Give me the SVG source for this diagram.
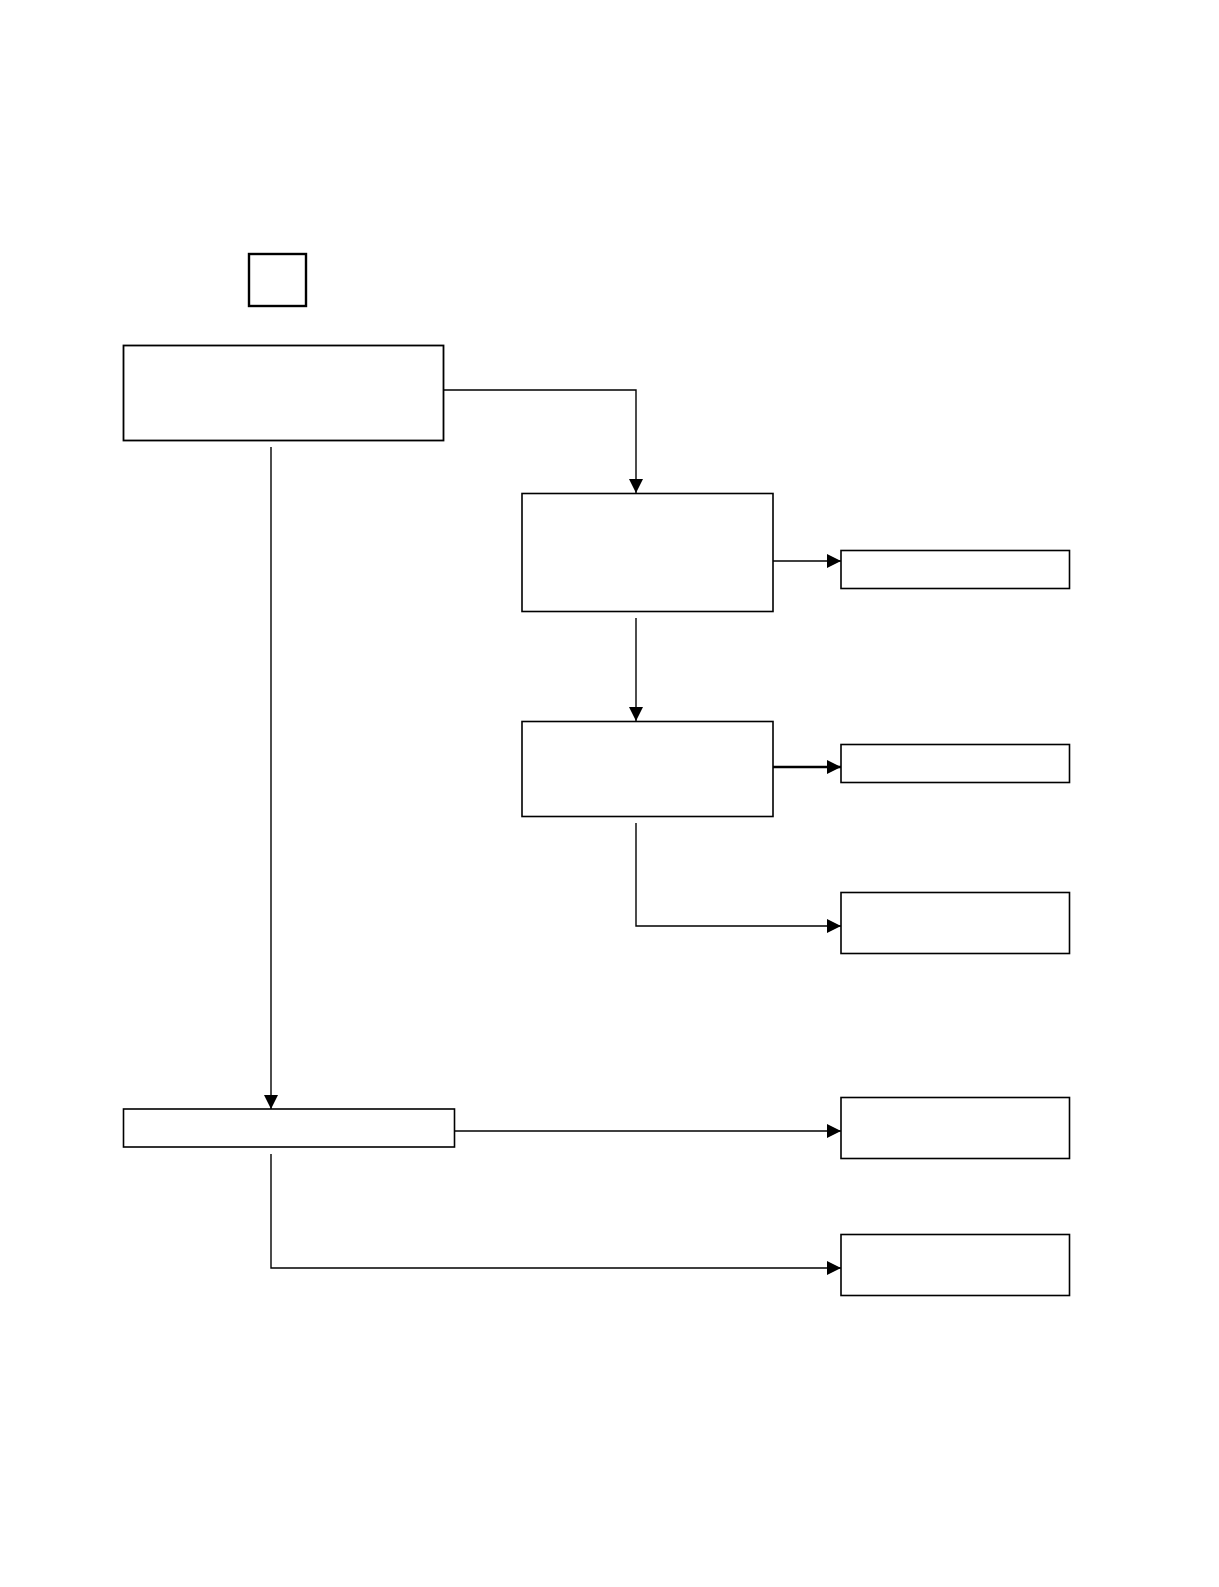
<svg xmlns="http://www.w3.org/2000/svg" width="1219" height="1587" viewBox="0 0 1219 1587">
<style>
.box{fill:#fff;stroke:#000;stroke-width:1.6}
.thick{stroke-width:2.4}
.con{fill:none;stroke:#000;stroke-width:1.4}
</style>
<defs>
<marker id="ah" markerUnits="userSpaceOnUse" markerWidth="15" markerHeight="15" refX="14" refY="7" orient="auto">
<path d="M0,0 L14,7 L0,14 z" fill="#000"/>
</marker>
</defs>
<rect width="1219" height="1587" fill="#fff"/>
<g id="connectors">
<polyline class="con" points="443,390 636,390 636,493" marker-end="url(#ah)"/>
<line class="con" x1="271" y1="447" x2="271" y2="1109" marker-end="url(#ah)"/>
<line class="con" x1="773" y1="561" x2="841" y2="561" marker-end="url(#ah)"/>
<line class="con" x1="636" y1="618" x2="636" y2="721" marker-end="url(#ah)"/>
<line class="con" x1="773" y1="767" x2="841" y2="767" stroke-width="2.4" style="stroke-width:2.4" marker-end="url(#ah)"/>
<polyline class="con" points="636,823 636,926 841,926" marker-end="url(#ah)"/>
<line class="con" x1="454" y1="1131" x2="841" y2="1131" marker-end="url(#ah)"/>
<polyline class="con" points="271,1154 271,1268 841,1268" marker-end="url(#ah)"/>
</g>
<g id="n0"><rect class="box thick" x="249" y="254" width="57" height="52"/></g>
<g id="n1"><rect class="box" x="123.5" y="345.5" width="320" height="95" style="stroke-width:1.8"/></g>
<g id="n2"><rect class="box" x="522" y="493.5" width="251" height="118"/></g>
<g id="n3"><rect class="box" x="841" y="550.5" width="228.5" height="38"/></g>
<g id="n4"><rect class="box" x="522" y="721.5" width="251" height="95"/></g>
<g id="n5"><rect class="box" x="841" y="744.5" width="228.5" height="38"/></g>
<g id="n6"><rect class="box" x="841" y="892.5" width="228.5" height="61"/></g>
<g id="n7"><rect class="box" x="123.5" y="1109" width="331" height="38"/></g>
<g id="n8"><rect class="box" x="841" y="1097.5" width="228.5" height="61"/></g>
<g id="n9"><rect class="box" x="841" y="1234.5" width="228.5" height="61"/></g>
</svg>
